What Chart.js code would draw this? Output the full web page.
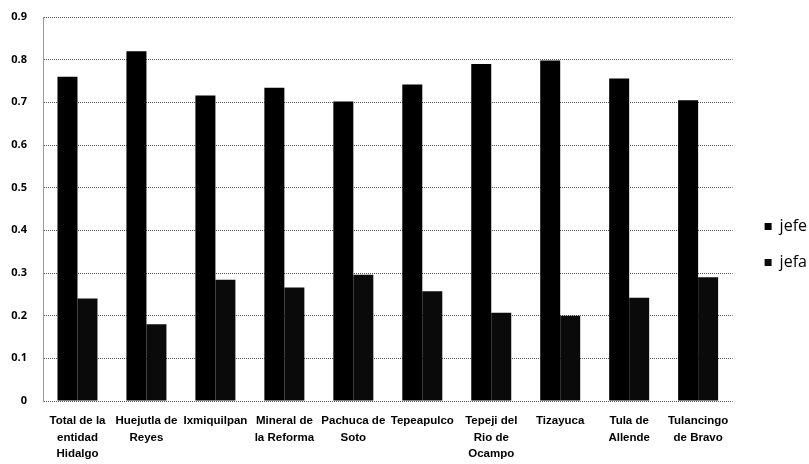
<!DOCTYPE html>
<html>
<head>
<meta charset="utf-8">
<script src="https://cdn.jsdelivr.net/npm/chart.js@4"></script>
<style>
    body { margin: 0; background: #fff; }
    #wrap { width: 809px; height: 464px; }
</style>
</head>
<body>
<div id="wrap"><canvas id="chart" width="809" height="464"></canvas></div>
<script>
// municipios (etiquetas en varias líneas)
const categories = [
    ['Total de la', 'entidad', 'Hidalgo'],
    ['Huejutla de', 'Reyes'],
    ['Ixmiquilpan'],
    ['Mineral de', 'la Reforma'],
    ['Pachuca de', 'Soto'],
    ['Tepeapulco'],
    ['Tepeji del', 'Rio de', 'Ocampo'],
    ['Tizayuca'],
    ['Tula de', 'Allende'],
    ['Tulancingo', 'de Bravo']
];
const seriesNames = ['jefe', 'jefa'];
const jefe = [0.76, 0.82, 0.716, 0.734, 0.702, 0.742, 0.79, 0.798, 0.756, 0.705];
const jefa = [0.24, 0.18, 0.284, 0.266, 0.296, 0.257, 0.207, 0.2, 0.242, 0.29];
const yTicks = [0, 0.1, 0.2, 0.3, 0.4, 0.5, 0.6, 0.7, 0.8, 0.9];

// mueve la leyenda un poco a la derecha y abajo (como en el original)
const legendShift = {
    id: 'legendShift',
    afterLayout(chart) {
        const lg = chart.legend;
        if (!lg) return;
        lg.left += 12; lg.right += 12;
        lg.top += 4; lg.bottom += 4;
    }
};

const ctx = document.getElementById('chart');
new Chart(ctx, {
    type: 'bar',
    data: {
        labels: categories,
        datasets: [
            { label: seriesNames[0], data: jefe, backgroundColor: '#000000', borderWidth: 0 },
            { label: seriesNames[1], data: jefa, backgroundColor: '#0a0a0a', borderWidth: 0 }
        ]
    },
    plugins: [legendShift],
    options: {
        responsive: false,
        animation: false,
        layout: { padding: { left: 0, top: 17, right: 4, bottom: 0 } },
        datasets: {
            bar: { categoryPercentage: 0.58, barPercentage: 1.0 }
        },
        plugins: {
            tooltip: { enabled: false },
            legend: {
                position: 'right',
                align: 'center',
                labels: {
                    boxWidth: 7,
                    boxHeight: 7,
                    padding: 20,
                    color: '#000',
                    font: { family: "'Open Sans', sans-serif", size: 16 }
                }
            }
        },
        scales: {
            x: {
                afterFit: function(scale) { scale.height = 63; },
                grid: { display: false, drawTicks: false },
                border: { display: false },
                ticks: {
                    color: '#000',
                    padding: 12,
                    maxRotation: 0,
                    autoSkip: false,
                    font: { family: "'Liberation Sans', Arial, sans-serif", size: 11.5, weight: 'bold', lineHeight: 1.43 }
                }
            },
            y: {
                min: 0,
                max: 0.9,
                afterFit: function(scale) {
                    scale.width = 43;
                    scale.paddingTop = 0;
                    scale.paddingBottom = 0;
                },
                afterBuildTicks: function(scale) {
                    scale.ticks = yTicks.map(v => ({ value: v }));
                },
                grid: { color: '#555', lineWidth: 1, drawTicks: false },
                border: { display: true, color: '#999', dash: [1, 1] },
                ticks: {
                    color: '#000',
                    padding: 16,
                    font: { family: "'Open Sans', sans-serif", size: 11, weight: 'bold' },
                    callback: function(v) { return v === 0 ? '0' : v.toFixed(1); }
                }
            }
        }
    }
});
</script>
</body>
</html>
